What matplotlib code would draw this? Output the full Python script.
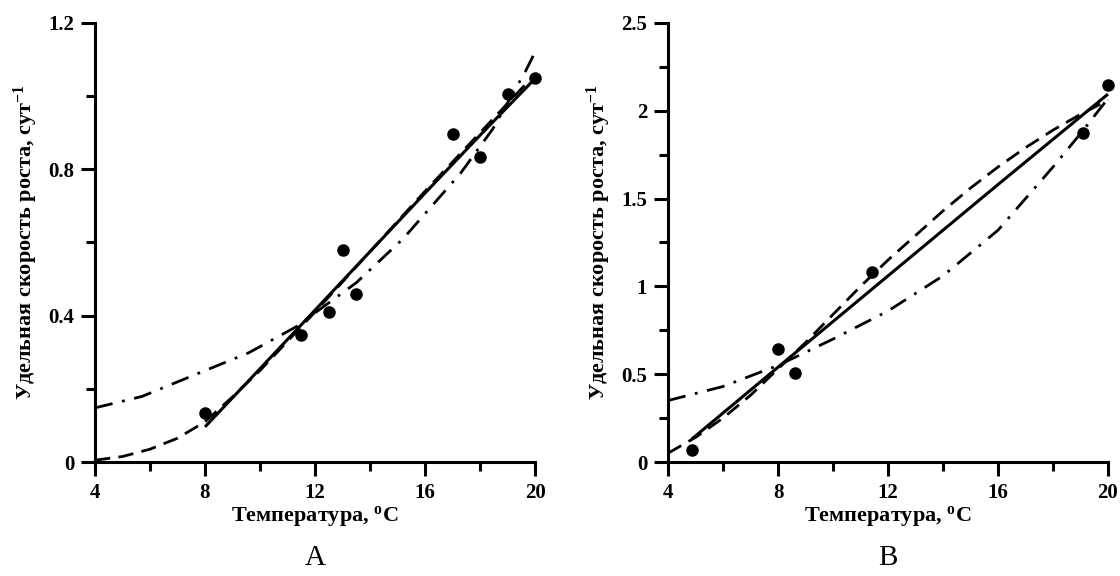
import matplotlib
matplotlib.use("Agg")
import matplotlib.pyplot as plt
from matplotlib.ticker import MultipleLocator

plt.rcParams['font.family'] = ['Liberation Serif', 'DejaVu Serif']
plt.rcParams['mathtext.fontset'] = 'custom'
plt.rcParams['mathtext.rm'] = 'Liberation Serif:bold'
plt.rcParams['mathtext.bf'] = 'Liberation Serif:bold'
plt.rcParams['mathtext.it'] = 'Liberation Serif:bold'
plt.rcParams['lines.scale_dashes'] = False

# ---- Panel A data ----
a_pts_T = [8.0, 11.5, 12.5, 13.0, 13.5, 17.0, 18.0, 19.0, 20.0]
a_pts_v = [0.133, 0.347, 0.409, 0.58, 0.46, 0.896, 0.834, 1.005, 1.05]
a_solid_T = [8, 10, 12, 14, 16, 18, 20]
a_solid_v = [0.096, 0.255, 0.415, 0.575, 0.735, 0.893, 1.048]
a_dash_T = [4, 5, 6, 7, 8, 9, 10, 12, 14, 16, 18, 20]
a_dash_v = [0.005, 0.015, 0.035, 0.065, 0.11, 0.178, 0.25, 0.41, 0.575, 0.74, 0.9, 1.06]
a_dd_T = [4, 5.7, 8.3, 9.6, 11.3, 13.5, 15.2, 17.3, 18.46, 19.64, 20]
a_dd_v = [0.148, 0.179, 0.259, 0.299, 0.369, 0.49, 0.61, 0.79, 0.91, 1.066, 1.12]

# ---- Panel B data ----
b_pts_T = [4.86, 7.99, 8.63, 11.43, 19.08, 20.0]
b_pts_v = [0.071, 0.644, 0.504, 1.083, 1.873, 2.149]
b_solid_T = [4.86, 8, 12, 16, 20]
b_solid_v = [0.13, 0.54, 1.06, 1.58, 2.095]
b_dash_T = [4, 5, 6, 7, 8, 9, 10, 11, 12, 13, 14, 15, 16, 17, 18, 19, 20]
b_dash_v = [0.05, 0.14, 0.25, 0.38, 0.53, 0.68, 0.84, 1.0, 1.15, 1.29, 1.43, 1.56, 1.68, 1.79, 1.89, 1.98, 2.06]
b_dd_T = [4, 6, 8, 10, 12, 14, 16, 18, 19, 20]
b_dd_v = [0.35, 0.43, 0.55, 0.70, 0.86, 1.06, 1.32, 1.68, 1.87, 2.07]

x_ticks = [4, 8, 12, 16, 20]
a_yticks = [0, 0.4, 0.8, 1.2]
a_ylabels = ['0', '0.4', '0.8', '1.2']
b_yticks = [0, 0.5, 1, 1.5, 2, 2.5]
b_ylabels = ['0', '0.5', '1', '1.5', '2', '2.5']

fig = plt.figure(figsize=(11.2, 5.76), dpi=100)
axA = fig.add_axes([95/1120, 1-462/576, 440/1120, 439/576])
axB = fig.add_axes([668/1120, 1-462/576, 440/1120, 439/576])

ylabel = 'Удельная скорость роста, сут$^{-1}$'
xlabel = 'Температура, $^{\\mathrm{o}}$C'

def style(ax, yticks, ylabels, ymax, yminor):
    ax.set_xlim(4, 20)
    ax.set_ylim(0, ymax)
    for s in ['top', 'right']:
        ax.spines[s].set_visible(False)
    for s in ['left', 'bottom']:
        ax.spines[s].set_linewidth(2.2)
    ax.set_xticks(x_ticks)
    ax.set_xticklabels([str(t) for t in x_ticks])
    ax.xaxis.set_minor_locator(MultipleLocator(2))
    ax.set_yticks(yticks)
    ax.set_yticklabels(ylabels)
    ax.yaxis.set_minor_locator(MultipleLocator(yminor))
    ax.tick_params(which='major', direction='out', length=10, width=2.2,
                   labelsize=15, pad=5)
    ax.tick_params(which='minor', direction='out', length=6.5, width=2.2)
    for lab in ax.get_xticklabels() + ax.get_yticklabels():
        lab.set_fontweight('bold')
    ax.set_xlabel(xlabel, fontsize=16, fontweight='bold', labelpad=1)
    ax.set_ylabel(ylabel, fontsize=16, fontweight='bold', labelpad=6)

def draw(ax, pT, pv, sT, sv, dT, dv, ddT, ddv):
    ax.plot(sT, sv, color='black', lw=2.2, solid_capstyle='butt', clip_on=False)
    ax.plot(dT, dv, color='black', lw=2.0, dashes=(11, 6), clip_on=False)
    ax.plot(ddT, ddv, color='black', lw=2.0, dashes=(13, 7, 2, 7), clip_on=False)
    ax.plot(pT, pv, 'o', color='black', ms=8, clip_on=False, zorder=5)

draw(axA, a_pts_T, a_pts_v, a_solid_T, a_solid_v, a_dash_T, a_dash_v, a_dd_T, a_dd_v)
draw(axB, b_pts_T, b_pts_v, b_solid_T, b_solid_v, b_dash_T, b_dash_v, b_dd_T, b_dd_v)
style(axA, a_yticks, a_ylabels, 1.2, 0.2)
style(axB, b_yticks, b_ylabels, 2.5, 0.25)

fig.text(315/1120, 1-558/576, 'A', fontsize=21, ha='center', va='center')
fig.text(888/1120, 1-558/576, 'B', fontsize=21, ha='center', va='center')

fig.savefig('out.png', dpi=100)
